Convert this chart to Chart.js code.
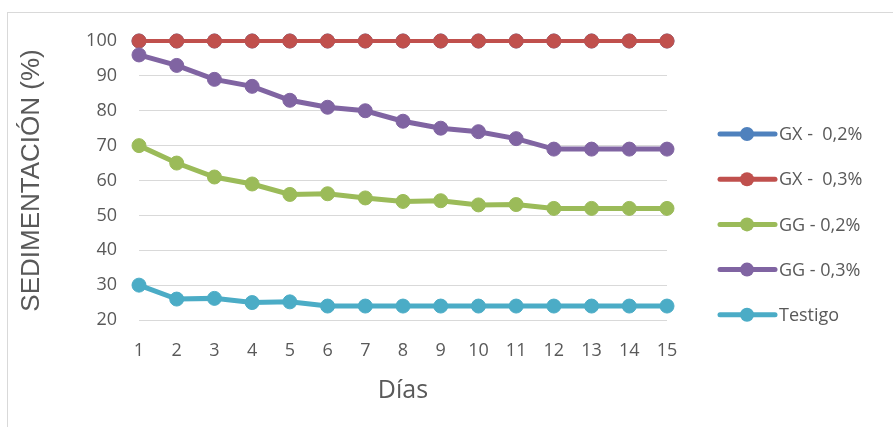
<!DOCTYPE html>
<html>
<head>
<meta charset="utf-8">
<script src="https://cdn.jsdelivr.net/npm/chart.js@4/dist/chart.umd.min.js"></script>
<style>
  html, body { margin: 0; padding: 0; background: #ffffff; }
  #wrap { width: 893px; height: 427px; }
</style>
</head>
<body>
<div id="wrap"><canvas id="c" width="893" height="427"></canvas></div>
<script>
// Days of observation
const dias = ['1','2','3','4','5','6','7','8','9','10','11','12','13','14','15'];

// Sedimentation (%) per treatment
const gx02    = [100,100,100,100,100,100,100,100,100,100,100,100,100,100,100];
const gx03    = [100,100,100,100,100,100,100,100,100,100,100,100,100,100,100];
const gg02    = [70,65,61,59,56,56.2,55,54,54.2,53,53.1,52,52,52,52];
const gg03    = [96,93,89,87,83,81,80,77,75,74,72,69,69,69,69];
const testigo = [30,26,26.2,25,25.2,24,24,24,24,24,24,24,24,24,24];

// Axis ticks and labels
const yTicks = [20,30,40,50,60,70,80,90,100];
const seriesNames = ['GX -  0,2%', 'GX -  0,3%', 'GG - 0,2%', 'GG - 0,3%', 'Testigo'];
const seriesColors = ['#4F81BD', '#C0504D', '#9BBB59', '#8064A2', '#4BACC6'];
const seriesData = [gx02, gx03, gg02, gg03, testigo];

const textColor = '#595959';
const gridColor = '#D9D9D9';

const datasets = seriesData.map((d, i) => ({
  label: seriesNames[i],
  data: d,
  borderColor: seriesColors[i],
  backgroundColor: seriesColors[i],
  borderWidth: i === 1 || i === 0 ? 4 : 5,
  pointRadius: 7,
  pointBorderWidth: 1,
  pointBorderColor: seriesColors[i],
  pointBackgroundColor: seriesColors[i],
  tension: 0,
  clip: false,
  // later series are painted over earlier ones
  order: seriesData.length - 1 - i
}));

// Frame around the whole chart
const framePlugin = {
  id: 'frame',
  beforeDraw(chart) {
    const ctx = chart.ctx;
    ctx.save();
    ctx.strokeStyle = '#D9D9D9';
    ctx.lineWidth = 1;
    ctx.strokeRect(7.5, 12.5, 1000, 1000);
    ctx.restore();
  }
};

// Legend on the right: line with a round marker, then the series name
const sideLegend = {
  id: 'sideLegend',
  afterDraw(chart) {
    const ctx = chart.ctx;
    const x0 = 720, x1 = 775, xd = 747, xt = 779;
    const yStart = 134, step = 45.2;
    ctx.save();
    chart.data.datasets.forEach((ds, i) => {
      const y = yStart + i * step;
      ctx.strokeStyle = ds.borderColor;
      ctx.lineWidth = 5;
      ctx.lineCap = 'round';
      ctx.beginPath();
      ctx.moveTo(x0, y);
      ctx.lineTo(x1, y);
      ctx.stroke();
      ctx.fillStyle = ds.borderColor;
      ctx.beginPath();
      ctx.arc(xd, y, 7, 0, Math.PI * 2);
      ctx.fill();
      ctx.fillStyle = textColor;
      ctx.font = '18px "Open Sans"';
      ctx.textAlign = 'left';
      ctx.textBaseline = 'middle';
      ctx.fillText(ds.label, xt, y + 1);
    });
    ctx.restore();
  }
};

new Chart(document.getElementById('c'), {
  type: 'line',
  data: { labels: dias, datasets },
  options: {
    responsive: false,
    devicePixelRatio: 1,
    animation: false,
    layout: { padding: { top: 41, right: 226, bottom: 0, left: 0 } },
    plugins: {
      legend: { display: false },
      tooltip: { enabled: false }
    },
    scales: {
      x: {
        type: 'category',
        offset: false,
        grid: { display: false, drawTicks: false },
        border: { display: false },
        ticks: {
          color: textColor,
          font: { family: '"Open Sans"', size: 18 },
          padding: 20,
          maxRotation: 0,
          autoSkip: false
        },
        title: {
          display: true,
          text: 'Días',
          color: textColor,
          font: { family: '"Open Sans"', size: 25 },
          padding: { top: 0, bottom: 21 }
        },
        afterFit(scale) { scale.height = 107; }
      },
      y: {
        min: 20,
        max: 100,
        afterBuildTicks(scale) { scale.ticks = yTicks.map(v => ({ value: v })); },
        grid: { color: gridColor, lineWidth: 1, drawTicks: false },
        border: { display: false },
        ticks: {
          color: textColor,
          font: { family: '"Open Sans"', size: 18 },
          padding: 22
        },
        title: {
          display: true,
          text: 'SEDIMENTACIÓN (%)',
          color: textColor,
          font: { family: '"Liberation Sans"', size: 26 },
          padding: { top: 16, bottom: 0 }
        },
        afterFit(scale) { scale.width = 139; }
      }
    }
  },
  plugins: [framePlugin, sideLegend]
});
</script>
</body>
</html>
